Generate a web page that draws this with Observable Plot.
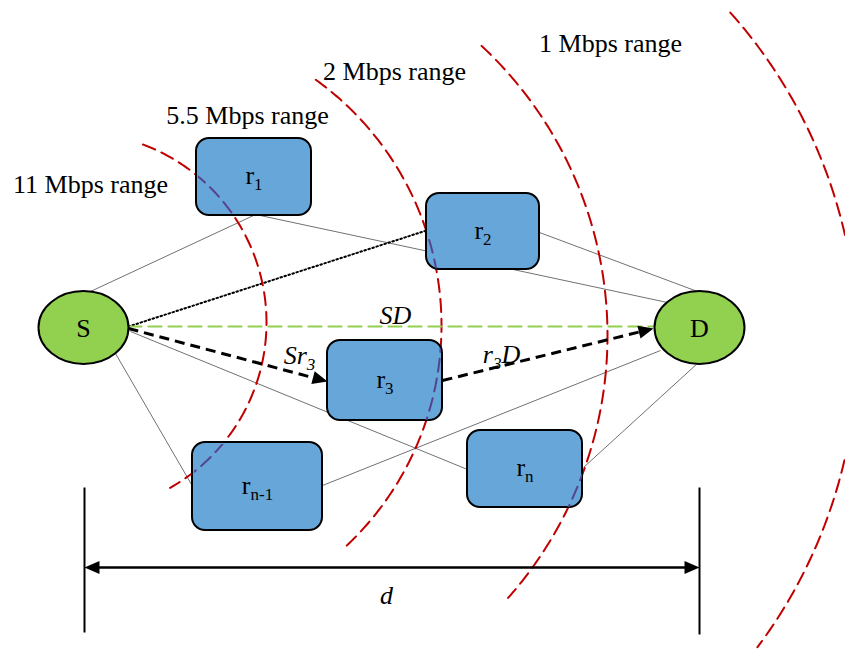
<!DOCTYPE html>
<html>
<head>
<meta charset="utf-8">
<script src="https://cdn.jsdelivr.net/npm/d3@7"></script>
<script src="https://cdn.jsdelivr.net/npm/@observablehq/plot@0.6"></script>
<style>
  html, body { margin: 0; padding: 0; background: white; }
</style>
</head>
<body>
<div id="chart"></div>
<script>
// ---------- data ----------
const W = 845, H = 651;

// end nodes (ellipses)
const nodeLabels = ["S", "D"];
const nodeX = [83, 699];
const nodeY = [327, 327];

// relay boxes
const relayLabels = ["r_{1}", "r_{2}", "r_{3}", "r_{n-1}", "r_{n}"];
const relayLeft   = [196, 426, 327, 192, 467];
const relayRight  = [311, 539, 442, 322, 582];
const relayTop    = [138, 193, 340, 442, 430];
const relayBottom = [215, 269, 420, 530, 507];

// thin connection lines
const linkX1 = [90, 255, 539, 130, 115, 322, 583];
const linkY1 = [291, 214, 232, 331, 353, 485, 467];
const linkX2 = [253, 667, 697, 467, 191, 660, 698];
const linkY2 = [215, 302, 291, 469, 484, 350, 362];

// dotted S -> r2
const dottedX = [128, 426];
const dottedY = [326, 230];

// green dashed S -> D
const sdX = [128, 653];
const sdY = [326, 326];

// black dashed arrows S -> r3, r3 -> D
const arrowX1 = [128, 442];
const arrowY1 = [328, 380];
const arrowX2 = [327, 653];
const arrowY2 = [381, 328];

// range arcs (circle centre, radius, start/end angle in degrees)
const arcCx = [76, 138, 211, 355];
const arcCy = [322, 325, 335, 346];
const arcR = [190, 303, 396, 502];
const arcStart = [-69.5, -54.2, -47, -41.7];
const arcEnd = [60.9, 47.5, 41.7, 36.8];

// range labels
const rangeLabels = ["11 Mbps range", "5.5 Mbps range", "2 Mbps range", "1 Mbps range"];
const rangeX = [90, 247, 394, 610];
const rangeY = [184, 115, 71, 43];

// italic edge labels
const edgeLabels = ["SD", "Sr_{3}", "r_{3}D", "d"];
const edgeX = [395, 299, 501, 386];
const edgeY = [315, 355, 354, 595];

// distance bar
const dimTickX = [84, 699];
const dimTickTop = [487, 487];
const dimTickBottom = [632, 634];
const dimY = 567;

// ---------- derived tables ----------
const nodes = nodeLabels.map((l, i) => ({label: l, x: nodeX[i], y: nodeY[i]}));
const relays = relayLabels.map((l, i) => ({
  label: l, x1: relayLeft[i], x2: relayRight[i], y1: relayTop[i], y2: relayBottom[i],
  cx: (relayLeft[i] + relayRight[i]) / 2, cy: (relayTop[i] + relayBottom[i]) / 2
}));
const links = linkX1.map((_, i) => ({x1: linkX1[i], y1: linkY1[i], x2: linkX2[i], y2: linkY2[i]}));

const arcPts = [];
arcCx.forEach((cx, i) => {
  for (let a = arcStart[i]; a <= arcEnd[i] + 1e-9; a += 0.5) {
    const t = a * Math.PI / 180;
    arcPts.push({arc: i, x: cx + arcR[i] * Math.cos(t), y: arcCy[i] + arcR[i] * Math.sin(t)});
  }
});

const HEAD = 15;
function shaft(x1, y1, x2, y2) {
  const dx = x2 - x1, dy = y2 - y1, L = Math.hypot(dx, dy);
  return {x1, y1, x2: x2 - dx / L * (HEAD - 2), y2: y2 - dy / L * (HEAD - 2),
          tipX: x2, tipY: y2, angle: Math.atan2(dy, dx) * 180 / Math.PI};
}
const dashedArrows = arrowX1.map((_, i) => shaft(arrowX1[i], arrowY1[i], arrowX2[i], arrowY2[i]));
const dimArrows = [
  shaft(dimTickX[1], dimY, dimTickX[0], dimY),
  shaft(dimTickX[0], dimY, dimTickX[1], dimY)
];
const heads = [...dashedArrows, ...dimArrows];
const dimTicks = dimTickX.map((x, i) => ({x, y1: dimTickTop[i], y2: dimTickBottom[i]}));

// symbols
const ellipseSymbol = {
  draw(ctx) {
    const rx = 45, ry = 36.5, k = 0.5523;
    ctx.moveTo(rx, 0);
    ctx.bezierCurveTo(rx, k * ry, k * rx, ry, 0, ry);
    ctx.bezierCurveTo(-k * rx, ry, -rx, k * ry, -rx, 0);
    ctx.bezierCurveTo(-rx, -k * ry, -k * rx, -ry, 0, -ry);
    ctx.bezierCurveTo(k * rx, -ry, rx, -k * ry, rx, 0);
    ctx.closePath();
  }
};
const headSymbol = {
  draw(ctx) {
    ctx.moveTo(0, 0);
    ctx.lineTo(-HEAD, -6.5);
    ctx.lineTo(-HEAD, 6.5);
    ctx.closePath();
  }
};

const FONT = "Liberation Serif";
const INSIDE = "#574290";
const FS = 26;

const plot = Plot.plot({
  width: W,
  height: H,
  margin: 0,
  x: {domain: [0, W], range: [0, W], axis: null},
  y: {domain: [0, H], range: [0, H], axis: null},
  style: {fontFamily: FONT, background: "white", overflow: "visible"},
  marks: [
    Plot.link(links, {x1: "x1", y1: "y1", x2: "x2", y2: "y2", stroke: "#333", strokeWidth: 0.7}),
    Plot.line(dottedX.map((x, i) => ({x, y: dottedY[i]})), {x: "x", y: "y", stroke: "black", strokeWidth: 2, strokeDasharray: "1.6,2.6"}),
    Plot.line(arcPts, {x: "x", y: "y", z: "arc", stroke: "#c00000", strokeWidth: 2, strokeDasharray: "13,7"}),
    Plot.rect(relays, {x1: "x1", x2: "x2", y1: "y1", y2: "y2", rx: 13, fill: "#66a6d8", stroke: "black", strokeWidth: 2}),
    Plot.line(arcPts, {x: "x", y: "y", z: "arc", stroke: INSIDE, strokeWidth: 2, strokeDasharray: "13,7"}),
    Plot.line(sdX.map((x, i) => ({x, y: sdY[i]})), {x: "x", y: "y", stroke: "#92d050", strokeWidth: 2.2, strokeDasharray: "13,7"}),
    Plot.link(dashedArrows, {x1: "x1", y1: "y1", x2: "x2", y2: "y2", stroke: "black", strokeWidth: 3, strokeDasharray: "10,6"}),
    Plot.link(dimTicks, {x1: "x", x2: "x", y1: "y1", y2: "y2", stroke: "black", strokeWidth: 2}),
    Plot.link([{x1: dimTickX[0] + 6, x2: dimTickX[1] - 6, y: dimY}], {x1: "x1", x2: "x2", y1: "y", y2: "y", stroke: "black", strokeWidth: 2.5}),
    Plot.dot(heads, {x: "tipX", y: "tipY", rotate: "angle", symbol: headSymbol, fill: "black", stroke: "none", r: 5}),
    Plot.dot(nodes, {x: "x", y: "y", symbol: ellipseSymbol, fill: "#92d050", stroke: "black", strokeWidth: 2, r: 10}),
    Plot.text(nodes, {x: "x", y: "y", text: "label", fontSize: FS, fontFamily: FONT, fill: "black", lineAnchor: "middle", dy: 1}),
    Plot.text(relays, {x: "cx", y: "cy", text: "label", fontSize: FS, fontFamily: FONT, fill: "black", lineAnchor: "middle", dy: -1}),
    Plot.text(rangeLabels.map((t, i) => ({t, x: rangeX[i], y: rangeY[i]})), {x: "x", y: "y", text: "t", fontSize: FS, fontFamily: FONT, fill: "black", lineAnchor: "middle"}),
    Plot.text(edgeLabels.map((t, i) => ({t, x: edgeX[i], y: edgeY[i]})), {x: "x", y: "y", text: "t", fontSize: FS, fontFamily: FONT, fontStyle: "italic", fill: "black", lineAnchor: "middle"})
  ]
});

// clip the "through-box" arcs to the box interiors
const NS = "http://www.w3.org/2000/svg";
const defs = document.createElementNS(NS, "defs");
const cp = document.createElementNS(NS, "clipPath");
cp.setAttribute("id", "boxclip");
const sx = plot.scale("x"), sy = plot.scale("y");
relays.forEach(r => {
  const rect = document.createElementNS(NS, "rect");
  rect.setAttribute("x", sx.apply(r.x1) + 1.5);
  rect.setAttribute("y", sy.apply(r.y1) + 1.5);
  rect.setAttribute("width", sx.apply(r.x2) - sx.apply(r.x1) - 2);
  rect.setAttribute("height", sy.apply(r.y2) - sy.apply(r.y1) - 2);
  rect.setAttribute("rx", 12);
  cp.appendChild(rect);
});
defs.appendChild(cp);
plot.appendChild(defs);
plot.querySelectorAll("g").forEach(g => {
  if (g.getAttribute("stroke") === INSIDE) g.setAttribute("clip-path", "url(#boxclip)");
});

// subscripts written as _{...}
d3.select(plot).selectAll("text").each(function () {
  const t = this.textContent;
  if (!t.includes("_{")) return;
  const parts = t.split(/(_\{[^}]*\})/).filter(s => s.length);
  const el = d3.select(this);
  el.text(null);
  let shifted = false;
  parts.forEach(p => {
    if (p.startsWith("_{")) {
      el.append("tspan").attr("font-size", "17px").attr("dy", shifted ? 0 : 6).text(p.slice(2, -1));
      shifted = true;
    } else {
      el.append("tspan").attr("dy", shifted ? -6 : 0).text(p);
      shifted = false;
    }
  });
});

document.getElementById("chart").appendChild(plot);
</script>
</body>
</html>
